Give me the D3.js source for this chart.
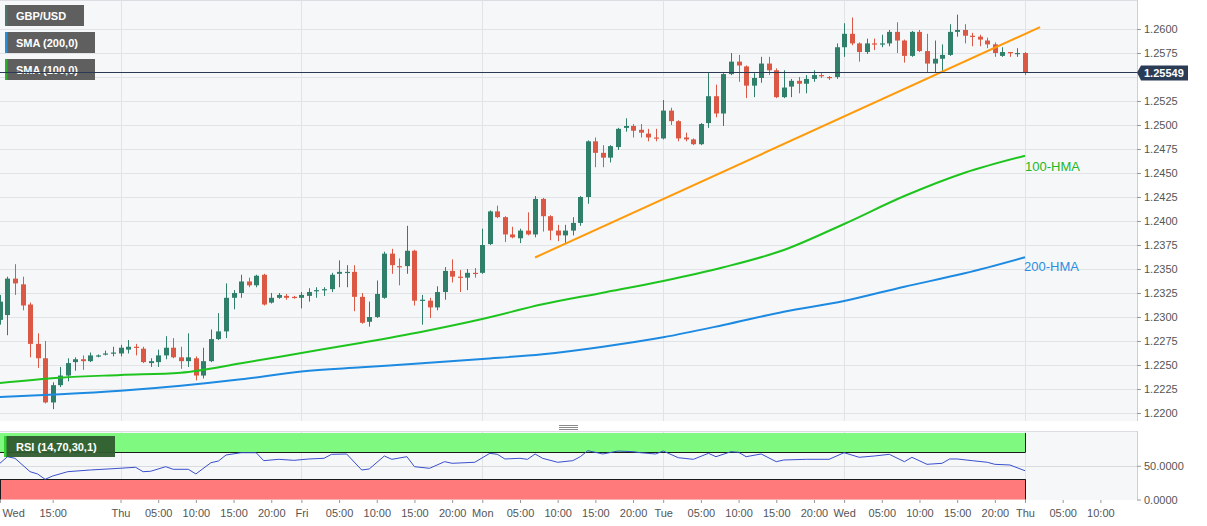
<!DOCTYPE html>
<html><head><meta charset="utf-8">
<script src="https://cdn.jsdelivr.net/npm/d3@7"></script>
<style>
html,body{margin:0;padding:0;background:#fff;}
svg{display:block;font-family:"Liberation Sans",Arial,sans-serif;}
</style></head><body>
<svg id="c" width="1207" height="526"></svg>
<script>
// ---------- DATA ----------
const symbol = "GBP/USD";
const firstHour = 8; // hourly candles, hour index counted from first Wed 00:00 (trading hours)
const open  = [1.2297,1.2302,1.2340,1.2334,1.2313,1.2272,1.2257,1.2211,1.2229,1.2239,1.2253,1.2256,1.2254,1.2259,1.2261,1.2263,1.2262,1.2266,1.2269,1.2267,1.2252,1.2253,1.2260,1.2268,1.2258,1.2254,1.2257,1.2239,1.2254,1.2277,1.2285,1.2320,1.2325,1.2337,1.2333,1.2344,1.2315,1.2320,1.2322,1.2321,1.2320,1.2322,1.2327,1.2328,1.2329,1.2345,1.2346,1.2347,1.2321,1.2295,1.2300,1.2320,1.2366,1.2353,1.2353,1.2369,1.2317,1.2317,1.2310,1.2326,1.2348,1.2342,1.2341,1.2346,1.2346,1.2376,1.2410,1.2404,1.2386,1.2382,1.2390,1.2386,1.2423,1.2405,1.2390,1.2385,1.2390,1.2398,1.2425,1.2483,1.2471,1.2466,1.2477,1.2497,1.2499,1.2495,1.2491,1.2487,1.2486,1.2515,1.2504,1.2487,1.2485,1.2480,1.2502,1.2530,1.2512,1.2553,1.2566,1.2561,1.2541,1.2549,1.2564,1.2557,1.2529,1.2540,1.2546,1.2543,1.2548,1.2552,1.2550,1.2550,1.2581,1.2595,1.2585,1.2576,1.2585,1.2584,1.2585,1.2597,1.2588,1.2572,1.2597,1.2577,1.2564,1.2569,1.2573,1.2597,1.2599,1.2593,1.2592,1.2588,1.2584,1.2572,1.2576,1.2574,1.2575];
const high  = [1.2323,1.2342,1.2355,1.2342,1.2315,1.2283,1.2275,1.2232,1.2248,1.2257,1.2258,1.2260,1.2263,1.2261,1.2265,1.2269,1.2271,1.2276,1.2272,1.2269,1.2257,1.2266,1.2280,1.2278,1.2269,1.2283,1.2259,1.2268,1.2287,1.2304,1.2335,1.2328,1.2344,1.2341,1.2344,1.2345,1.2325,1.2325,1.2324,1.2322,1.2326,1.2330,1.2331,1.2331,1.2346,1.2359,1.2354,1.2354,1.2325,1.2316,1.2338,1.2368,1.2371,1.2361,1.2395,1.2370,1.2323,1.2320,1.2332,1.2352,1.2360,1.2349,1.2350,1.2351,1.2392,1.2411,1.2416,1.2405,1.2394,1.2392,1.2409,1.2426,1.2424,1.2406,1.2396,1.2396,1.2404,1.2426,1.2484,1.2487,1.2479,1.2479,1.2497,1.2507,1.2501,1.2501,1.2496,1.2496,1.2526,1.2518,1.2505,1.2492,1.2486,1.2502,1.2554,1.2542,1.2554,1.2575,1.2573,1.2562,1.2554,1.2571,1.2571,1.2559,1.2557,1.2548,1.2550,1.2552,1.2557,1.2554,1.2551,1.2585,1.2606,1.2612,1.2586,1.2590,1.2590,1.2594,1.2599,1.2607,1.2589,1.2598,1.2599,1.2595,1.2588,1.2584,1.2605,1.2615,1.2605,1.2596,1.2594,1.2591,1.2586,1.2581,1.2576,1.2580,1.2576];
const low   = [1.2292,1.2281,1.2323,1.2307,1.2258,1.2247,1.2210,1.2204,1.2227,1.2233,1.2244,1.2245,1.2253,1.2258,1.2260,1.2259,1.2259,1.2262,1.2260,1.2252,1.2248,1.2248,1.2256,1.2257,1.2246,1.2248,1.2234,1.2236,1.2253,1.2276,1.2278,1.2308,1.2320,1.2331,1.2331,1.2312,1.2314,1.2319,1.2318,1.2319,1.2309,1.2316,1.2320,1.2322,1.2326,1.2331,1.2331,1.2306,1.2293,1.2290,1.2299,1.2319,1.2345,1.2333,1.2345,1.2312,1.2292,1.2299,1.2307,1.2318,1.2336,1.2326,1.2328,1.2341,1.2345,1.2375,1.2403,1.2378,1.2382,1.2377,1.2385,1.2383,1.2389,1.2380,1.2379,1.2377,1.2385,1.2395,1.2418,1.2456,1.2456,1.2461,1.2474,1.2493,1.2487,1.2487,1.2483,1.2483,1.2485,1.2500,1.2483,1.2483,1.2479,1.2479,1.2497,1.2508,1.2499,1.2552,1.2545,1.2528,1.2529,1.2544,1.2552,1.2528,1.2528,1.2529,1.2533,1.2533,1.2545,1.2549,1.2547,1.2548,1.2571,1.2583,1.2566,1.2574,1.2578,1.2581,1.2582,1.2575,1.2565,1.2571,1.2576,1.2555,1.2555,1.2555,1.2572,1.2592,1.2585,1.2582,1.2582,1.2580,1.2571,1.2571,1.2571,1.2571,1.2552];
const close = [1.2316,1.2340,1.2335,1.2312,1.2272,1.2257,1.2211,1.2229,1.2239,1.2252,1.2256,1.2254,1.2260,1.2260,1.2262,1.2263,1.2268,1.2269,1.2268,1.2253,1.2254,1.2260,1.2268,1.2258,1.2254,1.2258,1.2239,1.2254,1.2277,1.2285,1.2320,1.2325,1.2337,1.2333,1.2343,1.2313,1.2320,1.2323,1.2320,1.2320,1.2323,1.2326,1.2328,1.2329,1.2344,1.2347,1.2347,1.2321,1.2294,1.2300,1.2324,1.2366,1.2354,1.2352,1.2369,1.2317,1.2318,1.2310,1.2326,1.2348,1.2342,1.2341,1.2346,1.2345,1.2375,1.2410,1.2404,1.2386,1.2383,1.2390,1.2386,1.2423,1.2405,1.2390,1.2385,1.2390,1.2398,1.2425,1.2483,1.2471,1.2466,1.2478,1.2496,1.2499,1.2494,1.2492,1.2487,1.2486,1.2515,1.2504,1.2486,1.2485,1.2480,1.2501,1.2530,1.2512,1.2553,1.2566,1.2562,1.2541,1.2549,1.2564,1.2557,1.2529,1.2539,1.2546,1.2543,1.2548,1.2552,1.2551,1.2549,1.2581,1.2595,1.2585,1.2576,1.2585,1.2584,1.2585,1.2597,1.2588,1.2572,1.2597,1.2577,1.2564,1.2569,1.2573,1.2597,1.2599,1.2593,1.2592,1.2589,1.2584,1.2575,1.2576,1.2575,1.2575,1.25549];
const lastPrice = 1.25549;

const hmaHours = [8,16,24,32,40,48,56,64,72,80,88,96,104,112,120,128,136,144];
const hma100 = [1.22313,1.22368,1.22396,1.22420,1.22518,1.22625,1.22732,1.22847,1.22979,1.23132,1.23253,1.23375,1.23518,1.23698,1.23969,1.24260,1.24503,1.24680];
const hma200 = [1.22167,1.22195,1.22232,1.22284,1.22351,1.22432,1.22476,1.22518,1.22563,1.22612,1.22691,1.22789,1.22917,1.23055,1.23167,1.23316,1.23455,1.23622];

const trendHours = [79, 146];
const trendPrices = [1.2362, 1.2602];

const rsiHours = [8,9,10,12,13,14,15,17,20,23,26,27,28,30,31,33,34,36,37,38,40,42,43,45,47,49,51,52,54,56,57,59,60,62,63,65,67,68,71,73,74,75,77,78,79,80,82,84,85,86,88,90,92,93,95,96,98,100,102,103,105,106,107,109,111,112,115,118,120,122,124,126,128,129,131,133,134,135,137,139,140,142,144];
const rsiValues = [53.7,63.5,61.1,41.3,37.9,30.0,34.9,41.3,43.8,45.7,47.8,41.3,41.9,48.7,44.8,44.8,37.9,54.6,57.1,66.0,69.4,69.4,57.6,59.6,58.1,60.1,61.1,67.0,67.5,43.8,45.3,64.5,59.6,63.5,48.7,46.3,56.1,53.7,55.2,68.5,67.0,60.1,61.1,59.6,67.5,61.1,55.2,57.6,63.5,72.4,67.5,71.9,70.9,69.4,67.5,71.9,62.0,59.6,68.5,63.5,70.9,70.0,63.5,67.5,56.1,58.6,59.6,59.6,69.4,62.6,64.5,67.0,56.1,62.6,52.2,53.7,60.1,60.1,57.6,55.2,52.2,51.2,42.7];
const rsiUpper = 70, rsiLower = 30;

const priceTicks = [1.2200,1.2225,1.2250,1.2275,1.2300,1.2325,1.2350,1.2375,1.2400,1.2425,1.2450,1.2475,1.2500,1.2525,1.2575,1.2600];
const priceGrid  = [1.2200,1.2225,1.2250,1.2275,1.2300,1.2325,1.2350,1.2375,1.2400,1.2425,1.2450,1.2475,1.2500,1.2525,1.2550,1.2575,1.2600];
const timeTickHours  = [8,15,24,29,34,39,44,48,53,58,63,68,72,77,82,87,92,96,101,106,111,116,120,125,130,135,140,144,149,154];
const timeTickLabels = ["Wed","15:00","Thu","05:00","10:00","15:00","20:00","Fri","05:00","10:00","15:00","20:00","Mon","05:00","10:00","15:00","20:00","Tue","05:00","10:00","15:00","20:00","Wed","05:00","10:00","15:00","20:00","Thu","05:00","10:00"];
const dayStartHours = [24,48,72,96,120,144];
const rsiTicks = [0, 50];
const legendItems = [
  {label:"GBP/USD", accent:"#4e7466", w:79},
  {label:"SMA (200,0)", accent:"#2b8fd6", w:90},
  {label:"SMA (100,0)", accent:"#2cb02c", w:90}
];

// ---------- LAYOUT ----------
const plotW = 1137;
const mainTop = 0, mainBot = 421;
const rsiTop = 431, rsiBot = 500;
const svg = d3.select("#c");

const x = d3.scaleLinear().domain([24,144]).range([120.5,1025]);
const y = d3.scaleLinear().domain([1.22,1.26]).range([413,29]);
const yr = d3.scaleLinear().domain([0,100]).range([499.55,432.05]);

const bg = "#f6f7f9";
svg.append("rect").attr("x",0).attr("y",mainTop).attr("width",plotW).attr("height",mainBot-mainTop).attr("fill",bg);
svg.append("rect").attr("x",0).attr("y",rsiTop).attr("width",plotW).attr("height",rsiBot-rsiTop).attr("fill",bg);
svg.append("line").attr("x1",0).attr("x2",plotW).attr("y1",0.5).attr("y2",0.5).attr("stroke","#dcdde2");
svg.append("line").attr("x1",0).attr("x2",plotW).attr("y1",rsiTop+0.5).attr("y2",rsiTop+0.5).attr("stroke","#dcdde2");

// grid
const grid = svg.append("g").attr("stroke","#e2e3e6").attr("stroke-width",1);
priceGrid.forEach(p=>{
  const yy = Math.round(y(p))+0.5;
  grid.append("line").attr("x1",0).attr("x2",plotW).attr("y1",yy).attr("y2",yy);
});
dayStartHours.forEach(h=>{
  const xx = Math.round(x(h))+0.5;
  grid.append("line").attr("x1",xx).attr("x2",xx).attr("y1",mainTop).attr("y2",mainBot);
  grid.append("line").attr("x1",xx).attr("x2",xx).attr("y1",rsiTop).attr("y2",rsiBot);
});

// candles
const n = open.length;
const cg = svg.append("g");
for(let i=0;i<n;i++){
  const t = firstHour+i;
  const up = close[i] >= open[i];
  const col = up ? "#2f7f6b" : "#db5844";
  const cx = Math.round(x(t));
  cg.append("line").attr("x1",cx+0.5).attr("x2",cx+0.5)
    .attr("y1",y(high[i])).attr("y2",y(low[i])).attr("stroke",col).attr("stroke-width",1);
  const yt = y(Math.max(open[i],close[i])), yb = y(Math.min(open[i],close[i]));
  cg.append("rect").attr("x",cx-2).attr("width",5)
    .attr("y",yt).attr("height",Math.max(1.2,yb-yt)).attr("fill",col);
}

// HMA lines
const lineGen = d3.line().x(d=>x(d[0])).y(d=>y(d[1])).curve(d3.curveMonotoneX);
svg.append("path").datum(hmaHours.map((h,i)=>[h,hma200[i]])).attr("d",lineGen)
  .attr("fill","none").attr("stroke","#1d8ae2").attr("stroke-width",2);
svg.append("path").datum(hmaHours.map((h,i)=>[h,hma100[i]])).attr("d",lineGen)
  .attr("fill","none").attr("stroke","#1ec41e").attr("stroke-width",2);
svg.append("path").datum(trendHours.map((h,i)=>[h,trendPrices[i]])).attr("d",d3.line().x(d=>x(d[0])).y(d=>y(d[1])))
  .attr("fill","none").attr("stroke","#ff9a0a").attr("stroke-width",2);

svg.append("text").attr("x",x(144)).attr("y",y(hma100[hma100.length-1])+15).attr("font-size",13)
  .attr("fill","#22b822").text("100-HMA");
svg.append("text").attr("x",x(144)-1).attr("y",y(hma200[hma200.length-1])+14).attr("font-size",13)
  .attr("fill","#2a8fe0").text("200-HMA");

// legends
legendItems.forEach((it,i)=>{
  const gy = 5 + i*27;
  const g = svg.append("g");
  g.append("rect").attr("x",5).attr("y",gy).attr("width",it.w).attr("height",21).attr("fill","#5f5f5f");
  g.append("rect").attr("x",5).attr("y",gy).attr("width",2.5).attr("height",21).attr("fill",it.accent);
  g.append("text").attr("x",16).attr("y",gy+14.5).attr("font-size",11).attr("font-weight","bold")
    .attr("fill","#fff").text(it.label);
});

// current price line
const yp = Math.round(y(lastPrice))+0.5;
svg.append("line").attr("x1",0).attr("x2",plotW).attr("y1",yp).attr("y2",yp).attr("stroke","#2a3a54").attr("stroke-width",1);

// right axis (price)
svg.append("line").attr("x1",plotW+0.5).attr("x2",plotW+0.5).attr("y1",0).attr("y2",mainBot).attr("stroke","#cfd0d4");
svg.append("line").attr("x1",plotW+0.5).attr("x2",plotW+0.5).attr("y1",rsiTop).attr("y2",rsiBot).attr("stroke","#cfd0d4");
const ay = svg.append("g").attr("transform",`translate(${plotW},0)`)
  .call(d3.axisRight(y).tickValues(priceTicks).tickFormat(d3.format(".4f")).tickSize(4).tickPadding(3));
ay.select(".domain").remove();
ay.selectAll("line").attr("stroke","#999");
ay.selectAll("text").attr("font-size",11).attr("fill","#555").attr("font-family","Liberation Sans, Arial, sans-serif");

// price label box
const pb = svg.append("g");
pb.append("path").attr("d",`M${plotW},${yp} L${plotW+4},${yp-7} L${plotW+51},${yp-7} L${plotW+51},${yp+8} L${plotW+4},${yp+8} Z`).attr("fill","#2a3b56");
pb.append("text").attr("x",plotW+7).attr("y",yp+4).attr("font-size",11).attr("font-weight","bold").attr("fill","#fff").text(d3.format(".5f")(lastPrice));

// RSI panel
const bandX0 = 0, bandX1 = Math.round(x(144))+0.5;
svg.append("rect").attr("x",bandX0).attr("y",yr(100)+1).attr("width",bandX1-bandX0).attr("height",yr(rsiUpper)-yr(100)-1).attr("fill","#7ff97f");
svg.append("rect").attr("x",bandX0).attr("y",yr(rsiLower)).attr("width",bandX1-bandX0).attr("height",yr(0)-yr(rsiLower)).attr("fill","#ff7b7b");
const bl = svg.append("g").attr("stroke","#1a1a1a").attr("stroke-width",1);
bl.append("line").attr("x1",0).attr("x2",bandX1).attr("y1",Math.round(yr(rsiUpper))+0.5).attr("y2",Math.round(yr(rsiUpper))+0.5);
bl.append("line").attr("x1",0).attr("x2",bandX1).attr("y1",Math.round(yr(rsiLower))+0.5).attr("y2",Math.round(yr(rsiLower))+0.5);
bl.append("line").attr("x1",bandX1).attr("x2",bandX1).attr("y1",yr(100)+1).attr("y2",yr(rsiUpper));
bl.append("line").attr("x1",bandX1).attr("x2",bandX1).attr("y1",yr(rsiLower)).attr("y2",yr(0));
bl.append("line").attr("x1",0.5).attr("x2",0.5).attr("y1",yr(rsiLower)).attr("y2",yr(0));
svg.append("line").attr("x1",0).attr("x2",plotW).attr("y1",Math.round(yr(50))+0.5).attr("y2",Math.round(yr(50))+0.5).attr("stroke","#dadbdf");

svg.append("path").datum(rsiHours.map((h,i)=>[h,rsiValues[i]]))
  .attr("d",d3.line().x(d=>x(d[0])).y(d=>yr(d[1])))
  .attr("fill","none").attr("stroke","#3a4fcc").attr("stroke-width",1);

const rg = svg.append("g");
rg.append("rect").attr("x",4).attr("y",436).attr("width",111).attr("height",21).attr("fill","#305c30").attr("opacity",0.95);
rg.append("rect").attr("x",4).attr("y",436).attr("width",2.5).attr("height",21).attr("fill","#33d433");
rg.append("text").attr("x",16).attr("y",450.5).attr("font-size",11).attr("font-weight","bold").attr("fill","#fff").text("RSI (14,70,30,1)");

const ar = svg.append("g").attr("transform",`translate(${plotW},0)`)
  .call(d3.axisRight(yr).tickValues(rsiTicks).tickFormat(d3.format(".4f")).tickSize(4).tickPadding(3));
ar.select(".domain").remove();
ar.selectAll("line").attr("stroke","#999");
ar.selectAll("text").attr("font-size",11).attr("fill","#555").attr("font-family","Liberation Sans, Arial, sans-serif");

// bottom time axis
const ax = svg.append("g").attr("transform",`translate(0,${rsiBot})`)
  .call(d3.axisBottom(x).tickValues(timeTickHours).tickFormat((d,i)=>timeTickLabels[i]).tickSize(3).tickPadding(6));
ax.select(".domain").remove();
ax.selectAll("line").attr("stroke","#999");
ax.selectAll("text").attr("font-size",11).attr("fill","#555").attr("font-family","Liberation Sans, Arial, sans-serif");
ax.selectAll(".tick").filter((d,i)=>i===0).select("text").attr("text-anchor","start").attr("x",2);

// panel resize handle
const hd = svg.append("g").attr("stroke","#8a8a8a").attr("stroke-width",1);
[425.5,427.5,429.5].forEach(v=>hd.append("line").attr("x1",559).attr("x2",578).attr("y1",v).attr("y2",v));
</script>
</body></html>
